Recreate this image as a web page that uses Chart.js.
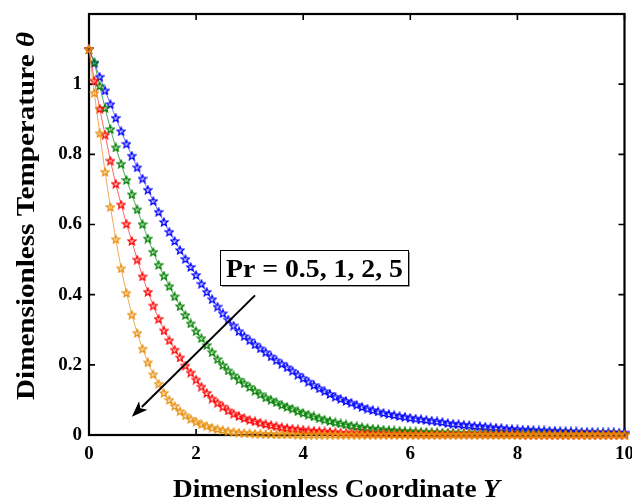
<!DOCTYPE html>
<html>
<head>
<meta charset="utf-8">
<script src="https://cdn.jsdelivr.net/npm/chart.js@4"></script>
<style>
    html, body { margin: 0; padding: 0; background: #fff; overflow: hidden; }
    #wrap { width: 632px; height: 501px; overflow: hidden; }
</style>
</head>
<body>
<div id="wrap"><canvas id="chart" width="642" height="501"></canvas></div>
<script>
// Y coordinate (x axis)
const yCoord = [
    0, 0.1, 0.2, 0.3, 0.4, 0.5, 0.6, 0.7, 0.8, 0.9,
    1, 1.1, 1.2, 1.3, 1.4, 1.5, 1.6, 1.7, 1.8, 1.9,
    2, 2.1, 2.2, 2.3, 2.4, 2.5, 2.6, 2.7, 2.8, 2.9,
    3, 3.1, 3.2, 3.3, 3.4, 3.5, 3.6, 3.7, 3.8, 3.9,
    4, 4.1, 4.2, 4.3, 4.4, 4.5, 4.6, 4.7, 4.8, 4.9,
    5, 5.1, 5.2, 5.3, 5.4, 5.5, 5.6, 5.7, 5.8, 5.9,
    6, 6.1, 6.2, 6.3, 6.4, 6.5, 6.6, 6.7, 6.8, 6.9,
    7, 7.1, 7.2, 7.3, 7.4, 7.5, 7.6, 7.7, 7.8, 7.9,
    8, 8.1, 8.2, 8.3, 8.4, 8.5, 8.6, 8.7, 8.8, 8.9,
    9, 9.1, 9.2, 9.3, 9.4, 9.5, 9.6, 9.7, 9.8, 9.9,
    10
];

// temperature, Pr = 0.5
const thetaPr05 = [
    1.100, 1.060, 1.021, 0.982, 0.943, 0.904, 0.866, 0.830, 0.796, 0.763,
    0.731, 0.699, 0.667, 0.636, 0.607, 0.579, 0.553, 0.527, 0.502, 0.479,
    0.456, 0.431, 0.408, 0.387, 0.366, 0.347, 0.329, 0.312, 0.296, 0.282,
    0.270, 0.258, 0.247, 0.236, 0.224, 0.213, 0.203, 0.193, 0.183, 0.172,
    0.162, 0.152, 0.142, 0.133, 0.125, 0.117, 0.109, 0.103, 0.097, 0.092,
    0.086, 0.080, 0.075, 0.071, 0.067, 0.063, 0.060, 0.057, 0.054, 0.052,
    0.049, 0.047, 0.045, 0.043, 0.041, 0.039, 0.037, 0.034, 0.032, 0.031,
    0.029, 0.028, 0.026, 0.025, 0.024, 0.022, 0.021, 0.020, 0.018, 0.017,
    0.016, 0.015, 0.015, 0.014, 0.013, 0.013, 0.012, 0.012, 0.011, 0.011,
    0.010, 0.010, 0.009, 0.009, 0.009, 0.008, 0.008, 0.008, 0.008, 0.007,
    0.007
];

// Pr = 1
const thetaPr1 = [
    1.100, 1.062, 0.995, 0.932, 0.872, 0.820, 0.773, 0.727, 0.686, 0.643,
    0.601, 0.560, 0.522, 0.485, 0.454, 0.424, 0.395, 0.367, 0.342, 0.318,
    0.296, 0.276, 0.256, 0.236, 0.216, 0.199, 0.184, 0.170, 0.158, 0.147,
    0.137, 0.126, 0.116, 0.107, 0.100, 0.093, 0.086, 0.080, 0.075, 0.068,
    0.063, 0.058, 0.053, 0.048, 0.044, 0.040, 0.036, 0.033, 0.030, 0.027,
    0.025, 0.022, 0.020, 0.018, 0.017, 0.015, 0.014, 0.013, 0.012, 0.011,
    0.010, 0.010, 0.009, 0.009, 0.008, 0.008, 0.007, 0.007, 0.007, 0.006,
    0.006, 0.006, 0.005, 0.005, 0.005, 0.005, 0.004, 0.004, 0.004, 0.004,
    0.004, 0.004, 0.004, 0.004, 0.004, 0.004, 0.003, 0.003, 0.003, 0.003,
    0.003, 0.003, 0.003, 0.003, 0.003, 0.003, 0.003, 0.003, 0.003, 0.003,
    0.003
];

// Pr = 2
const thetaPr2 = [
    1.100, 1.010, 0.930, 0.856, 0.782, 0.716, 0.657, 0.602, 0.553, 0.500,
    0.452, 0.408, 0.369, 0.331, 0.298, 0.270, 0.243, 0.221, 0.198, 0.178,
    0.158, 0.138, 0.120, 0.104, 0.092, 0.081, 0.070, 0.061, 0.054, 0.048,
    0.043, 0.039, 0.035, 0.031, 0.028, 0.025, 0.022, 0.020, 0.018, 0.016,
    0.015, 0.013, 0.012, 0.011, 0.010, 0.009, 0.008, 0.007, 0.006, 0.006,
    0.005, 0.005, 0.004, 0.004, 0.004, 0.004, 0.003, 0.003, 0.003, 0.003,
    0.003, 0.002, 0.002, 0.002, 0.002, 0.002, 0.002, 0.002, 0.002, 0.002,
    0.002, 0.002, 0.002, 0.002, 0.002, 0.002, 0.002, 0.002, 0.002, 0.002,
    0.002, 0.001, 0.001, 0.001, 0.001, 0.001, 0.001, 0.001, 0.001, 0.001,
    0.001, 0.001, 0.001, 0.001, 0.001, 0.001, 0.001, 0.001, 0.001, 0.001,
    0.001
];

// Pr = 5
const thetaPr5 = [
    1.100, 0.975, 0.860, 0.750, 0.650, 0.558, 0.475, 0.405, 0.343, 0.291,
    0.246, 0.207, 0.173, 0.146, 0.120, 0.100, 0.083, 0.068, 0.056, 0.046,
    0.038, 0.031, 0.026, 0.021, 0.017, 0.014, 0.011, 0.009, 0.007, 0.006,
    0.005, 0.004, 0.004, 0.003, 0.003, 0.002, 0.002, 0.002, 0.002, 0.001,
    0.001, 0.001, 0.001, 0.001, 0.001, 0.001, 0.001, 0.001, 0.001, 0.001,
    0.001, 0.001, 0.001, 0.001, 0.001, 0.001, 0.001, 0.001, 0.001, 0.001,
    0.001, 0.001, 0.001, 0.001, 0.001, 0.001, 0.001, 0.001, 0.001, 0.001,
    0.001, 0.001, 0.001, 0.001, 0.001, 0.001, 0.001, 0.001, 0.001, 0.001,
    0.001, 0.001, 0.001, 0.001, 0.001, 0.001, 0.001, 0.001, 0.001, 0.001,
    0.001, 0.001, 0.001, 0.001, 0.001, 0.001, 0.001, 0.001, 0.001, 0.001,
    0.001
];

const xTicks = [0, 2, 4, 6, 8, 10];
const yTicks = [0, 0.2, 0.4, 0.6, 0.8, 1];

// annotation: arrow from (Y, theta) to (Y, theta)
const arrowFrom = [3.10, 0.398];
const arrowTo = [0.80, 0.052];
const noteText = 'Pr = 0.5, 1, 2, 5';

const SERIF = "'Liberation Serif', 'Times New Roman', serif";

// pentagram marker
function starMarker(color) {
    const c = document.createElement('canvas');
    c.width = 10; c.height = 10;
    const g = c.getContext('2d');
    g.strokeStyle = color;
    g.lineWidth = 1.4;
    g.beginPath();
    for (let i = 0; i < 10; i++) {
        const r = i % 2 === 0 ? 4.0 : 1.8;
        const a = -Math.PI / 2 + i * Math.PI / 5;
        const px = 5 + r * Math.cos(a), py = 5.4 + r * Math.sin(a);
        if (i === 0) g.moveTo(px, py); else g.lineTo(px, py);
    }
    g.closePath();
    g.stroke();
    return c;
}

function series(values, color, line, order) {
    return {
        data: values,
        borderColor: line,
        borderWidth: 1,
        pointStyle: starMarker(color),
        pointRadius: 4,
        tension: 0,
        clip: false,
        order: order
    };
}

// box + inward ticks on all four sides
const frame = {
    id: 'frame',
    beforeDatasetsDraw(chart) {
        const { ctx, chartArea: a, scales: { x, y } } = chart;
        ctx.save();
        ctx.strokeStyle = '#000';
        ctx.lineWidth = 1.6;
        ctx.beginPath();
        xTicks.forEach(v => {
            const px = x.getPixelForValue(v);
            ctx.moveTo(px, a.bottom); ctx.lineTo(px, a.bottom - 6);
            ctx.moveTo(px, a.top); ctx.lineTo(px, a.top + 6);
        });
        yTicks.forEach(v => {
            const py = y.getPixelForValue(v);
            ctx.moveTo(a.left, py); ctx.lineTo(a.left + 6, py);
            ctx.moveTo(a.right, py); ctx.lineTo(a.right - 6, py);
        });
        ctx.stroke();
        ctx.lineWidth = 2.2;
        ctx.strokeRect(a.left, a.top, a.right - a.left, a.bottom - a.top);
        ctx.restore();
    },
    afterDatasetsDraw(chart) {
        const { ctx, scales: { x, y } } = chart;
        ctx.save();
        // arrow
        const x0 = x.getPixelForValue(arrowFrom[0]), y0 = y.getPixelForValue(arrowFrom[1]);
        const x1 = x.getPixelForValue(arrowTo[0]), y1 = y.getPixelForValue(arrowTo[1]);
        const ang = Math.atan2(y1 - y0, x1 - x0);
        const hl = 16, hw = 6;
        ctx.strokeStyle = '#000';
        ctx.fillStyle = '#000';
        ctx.lineWidth = 2;
        ctx.beginPath();
        ctx.moveTo(x0, y0);
        ctx.lineTo(x1 - (hl - 2) * Math.cos(ang), y1 - (hl - 2) * Math.sin(ang));
        ctx.stroke();
        ctx.beginPath();
        ctx.moveTo(x1, y1);
        ctx.lineTo(x1 - hl * Math.cos(ang) + hw * Math.sin(ang), y1 - hl * Math.sin(ang) - hw * Math.cos(ang));
        ctx.lineTo(x1 - (hl - 4) * Math.cos(ang), y1 - (hl - 4) * Math.sin(ang));
        ctx.lineTo(x1 - hl * Math.cos(ang) - hw * Math.sin(ang), y1 - hl * Math.sin(ang) + hw * Math.cos(ang));
        ctx.closePath();
        ctx.fill();

        // label box
        const bx = 220, by = 250, bw = 188, bh = 35;
        ctx.fillStyle = '#fff';
        ctx.fillRect(bx, by, bw, bh);
        ctx.strokeStyle = '#999';
        ctx.lineWidth = 1;
        ctx.beginPath();
        ctx.moveTo(bx + 2, by + bh + 1.5); ctx.lineTo(bx + bw + 1.5, by + bh + 1.5); ctx.lineTo(bx + bw + 1.5, by + 2);
        ctx.stroke();
        ctx.strokeStyle = '#000';
        ctx.strokeRect(bx + 0.5, by + 0.5, bw, bh);
        ctx.font = 'bold 26px ' + SERIF;
        ctx.fillStyle = '#000';
        ctx.textBaseline = 'alphabetic';
        const tw = ctx.measureText(noteText).width;
        ctx.translate(bx + 6, by + 27);
        ctx.scale(177 / tw, 1);
        ctx.fillText(noteText, 0, 0);
        ctx.restore();
    },
    afterDraw(chart) {
        const { ctx } = chart;
        ctx.save();
        ctx.fillStyle = '#000';
        ctx.textBaseline = 'alphabetic';
        const bold = 'bold 25px ' + SERIF, ital = 'italic bold 25px ' + SERIF;
        // x title
        ctx.font = bold;
        const xa = 'Dimensionless Coordinate ';
        const wa = ctx.measureText(xa).width;
        ctx.font = ital;
        const wb = ctx.measureText('Y').width;
        ctx.save();
        ctx.translate(173, 497);
        ctx.scale(327 / (wa + wb), 1);
        ctx.font = bold; ctx.fillText(xa, 0, 0);
        ctx.font = ital; ctx.fillText('Y', wa, 0);
        ctx.restore();
        // y title
        ctx.font = bold;
        const ya = 'Dimensionless Temperature ';
        const wc = ctx.measureText(ya).width;
        ctx.font = ital;
        const wd = ctx.measureText('\u03b8').width;
        ctx.save();
        ctx.translate(34, 400);
        ctx.rotate(-Math.PI / 2);
        ctx.scale(368 / (wc + wd), 1);
        ctx.font = bold; ctx.fillText(ya, 0, 0);
        ctx.font = ital; ctx.fillText('\u03b8', wc, 0);
        ctx.restore();
        ctx.restore();
    }
};

document.addEventListener('DOMContentLoaded', function () {
    const ctx = document.getElementById('chart').getContext('2d');
    new Chart(ctx, {
        type: 'line',
        data: {
            labels: yCoord,
            datasets: [
                series(thetaPr05, '#0000ff', 'rgba(60,60,255,0.75)', 3),
                series(thetaPr1, '#008000', 'rgba(30,140,30,0.75)', 2),
                series(thetaPr2, '#ff0000', 'rgba(255,50,50,0.75)', 1),
                series(thetaPr5, '#e8900f', 'rgba(235,150,40,0.8)', 0)
            ]
        },
        options: {
            responsive: false,
            animation: false,
            events: [],
            layout: { padding: { top: 14, left: 0, right: 0, bottom: 0 } },
            plugins: { legend: { display: false }, tooltip: { enabled: false } },
            scales: {
                x: {
                    type: 'linear',
                    min: 0,
                    max: 10,
                    grid: { display: false, drawTicks: false },
                    border: { display: false },
                    afterFit: s => { s.height = 66; },
                    afterBuildTicks: s => { s.ticks = xTicks.map(v => ({ value: v })); },
                    ticks: {
                        color: '#000',
                        padding: 8,
                        maxRotation: 0,
                        font: { family: SERIF, size: 19, weight: 'bold' }
                    }
                },
                y: {
                    min: 0,
                    max: 1.2,
                    grid: { display: false, drawTicks: false },
                    border: { display: false },
                    afterFit: s => { s.width = 89; s.paddingTop = 0; s.paddingBottom = 0; },
                    afterBuildTicks: s => { s.ticks = yTicks.map(v => ({ value: v })); },
                    ticks: {
                        color: '#000',
                        padding: 7,
                        font: { family: SERIF, size: 19, weight: 'bold' },
                        callback: v => String(Math.round(v * 10) / 10)
                    }
                }
            }
        },
        plugins: [frame]
    });
});
</script>
</body>
</html>
